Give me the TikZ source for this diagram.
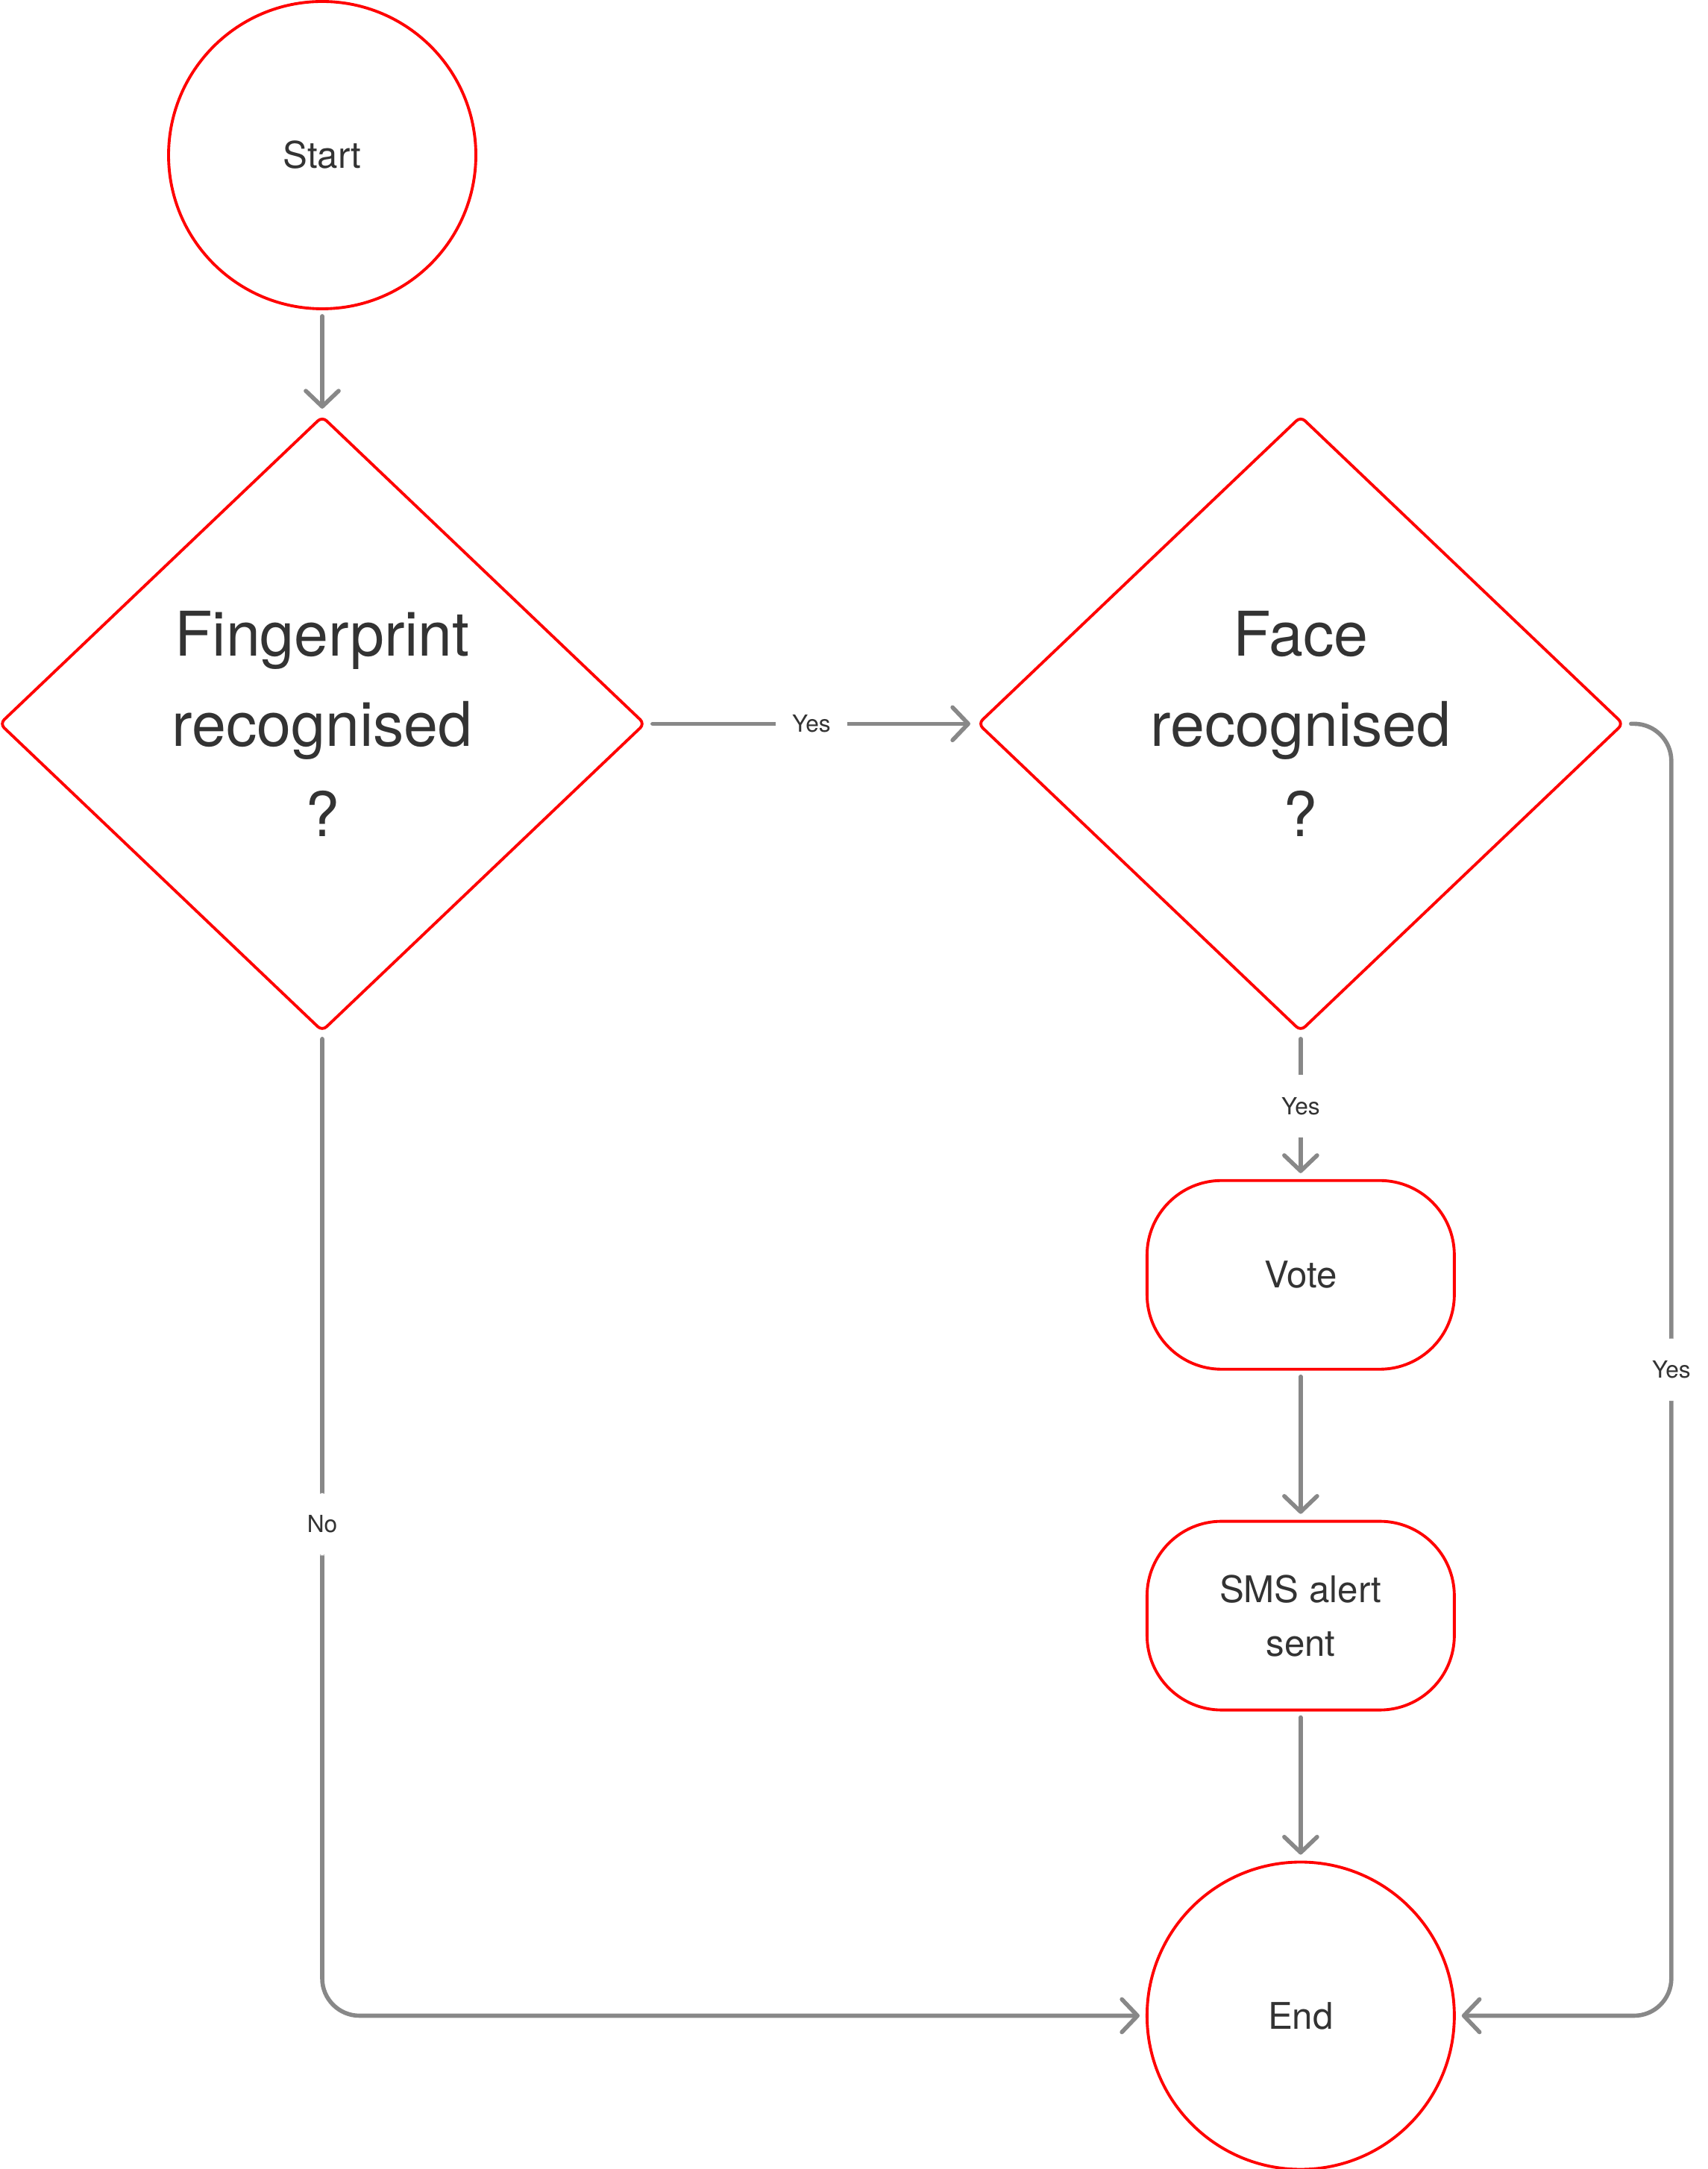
\documentclass[tikz,border=0pt]{standalone}
\usepackage{fontspec}
\setmainfont{TeX Gyre Heros}
\usetikzlibrary{
  shapes.geometric,
  arrows.meta,
  positioning
}
\definecolor{boxred}{HTML}{FF0000}
\definecolor{linegray}{HTML}{888888}
\definecolor{textgray}{HTML}{333333}

\tikzset{
  terminal/.style = {circle, draw=boxred, line width=1.1pt, minimum size=4.12cm, inner sep=0pt,
    text=textgray, font=\fontsize{14}{20}\selectfont},
  decision/.style = {diamond, draw=boxred, line width=1.1pt, rounded corners=0.08cm,
    minimum width=8.66cm, minimum height=8.25cm, inner sep=0pt, align=center,
    text=textgray, font=\fontsize{23.5}{34.3}\selectfont},
  process/.style = {rectangle, draw=boxred, line width=1.1pt, rounded corners=1cm,
    minimum width=4.12cm, minimum height=2.53cm, align=center,
    text=textgray, font=\fontsize{14}{20.5}\selectfont},
  flow/.style = {draw=linegray, line width=1.6pt, line cap=round,
    -{Straight Barb[length=0.21cm,width=0.44cm,round]},
    shorten <=0.08cm, shorten >=0.08cm},
  answer/.style = {fill=white, inner xsep=0.22cm, inner ysep=0.3cm,
    text=textgray, font=\fontsize{9}{11}\selectfont}
}

\begin{document}
\begin{tikzpicture}
    \useasboundingbox (0,0) rectangle (22.89,-29.08);

    \node[terminal] (start) at (4.32,-2.08) {Start};
    \node[decision,below = 1.40cm of start] (finger) {Fingerprint\\recognised\\?};
    \node[decision,right = 4.42cm of finger] (face) {Face\\recognised\\?};
    \node[process,below = 1.96cm of face] (vote) {Vote};
    \node[process,below = 2.0cm of vote] (sms) {SMS alert\\sent};
    \node[terminal,below = 2.0cm of sms] (end) {End};

    \draw[flow] (start) -- (finger);
    \draw[flow] (finger) -- node[answer]{Yes} (face);
    \draw[flow] (face) -- node[answer]{Yes} (vote);
    \draw[flow] (vote) -- (sms);
    \draw[flow] (sms) -- (end);
    \draw[flow,rounded corners=0.5cm] (finger) |- node[answer,pos=0.25]{No} (end);
    \draw[flow,rounded corners=0.5cm] (face.east) -- ++(0.62,0) |- node[answer,pos=0.25]{Yes} (end);
\end{tikzpicture}
\end{document}
